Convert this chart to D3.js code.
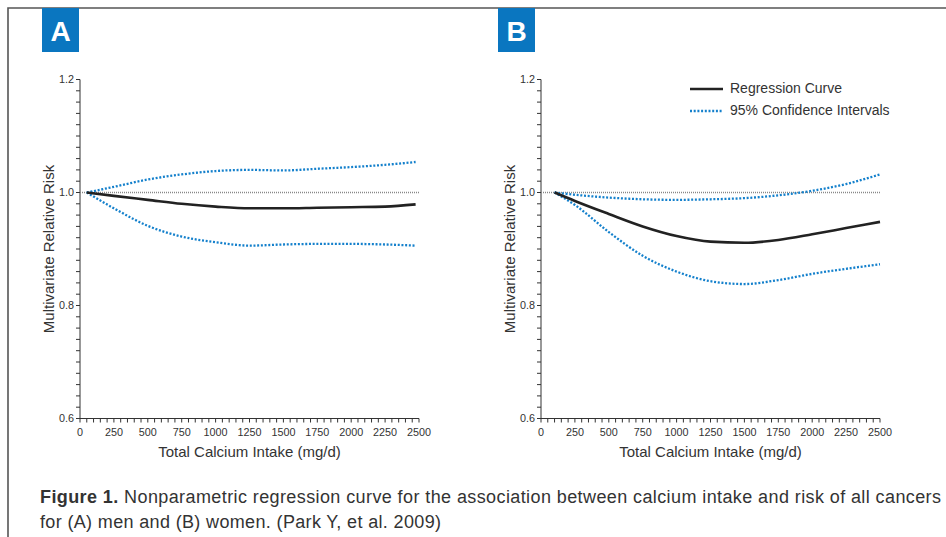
<!DOCTYPE html>
<html>
<head>
<meta charset="utf-8">
<script src="https://cdn.jsdelivr.net/npm/d3@7"></script>
<style>
  html, body { margin: 0; padding: 0; background: #fff; }
  svg { display: block; font-family: "Liberation Sans", Arial, sans-serif; }
  .tick-label { font-size: 10.8px; fill: #333; }
  .axis-title { font-size: 15px; fill: #333; }
  .legend-text { font-size: 14px; fill: #333; }
  .caption { font-size: 18px; fill: #333; }
</style>
</head>
<body>
<svg id="chart" width="946" height="537"></svg>
<script>
// Panel A (men): calcium intake (mg/d) vs multivariate relative risk
const doseA  = [50, 250, 500, 750, 1000, 1250, 1500, 1750, 2000, 2250, 2475];
const curveA = [1.000, 0.994, 0.987, 0.980, 0.975, 0.972, 0.972, 0.973, 0.974, 0.975, 0.979];
const upperA = [1.000, 1.010, 1.023, 1.032, 1.038, 1.040, 1.039, 1.042, 1.045, 1.049, 1.054];
const lowerA = [1.000, 0.972, 0.941, 0.922, 0.912, 0.906, 0.908, 0.909, 0.909, 0.908, 0.906];

// Panel B (women)
const doseB  = [100, 250, 500, 750, 1000, 1250, 1500, 1750, 2000, 2250, 2500];
const curveB = [1.000, 0.985, 0.962, 0.940, 0.923, 0.913, 0.911, 0.916, 0.926, 0.937, 0.948];
const upperB = [1.000, 0.996, 0.991, 0.988, 0.987, 0.988, 0.990, 0.995, 1.003, 1.015, 1.032];
const lowerB = [1.000, 0.978, 0.930, 0.888, 0.860, 0.843, 0.838, 0.845, 0.856, 0.865, 0.873];

// axis ticks
const xTickLabels = [0, 250, 500, 750, 1000, 1250, 1500, 1750, 2000, 2250, 2500];
const yTickLabels = [0.6, 0.8, 1.0, 1.2];
const legendLabels = ["Regression Curve", "95% Confidence Intervals"];
const captionBold = "Figure 1.";
const captionLine1 = " Nonparametric regression curve for the association between calcium intake and risk of all cancers";
const captionLine2 = "for (A) men and (B) women. (Park Y, et al. 2009)";

const blue = "#1480cc";
const svg = d3.select("#chart");

// frame around the figure
svg.append("path")
    .attr("d", "M8,537 L8,8 L946,8")
    .attr("fill", "none")
    .attr("stroke", "#555")
    .attr("stroke-width", 1.6);

function drawPanel(left, badgeX, letter, dose, curve, upper, lower, showLegend) {
    const x = d3.scaleLinear().domain([0, 2500]).range([left, left + 339]);
    const y = d3.scaleLinear().domain([0.6, 1.2]).range([418.5, 79.5]);
    const g = svg.append("g");

    // letter badge
    g.append("rect")
        .attr("x", badgeX).attr("y", 8)
        .attr("width", 37).attr("height", 44)
        .attr("fill", "#0a76c0");
    g.append("text")
        .attr("x", badgeX + 18.5).attr("y", 41)
        .attr("text-anchor", "middle")
        .attr("fill", "#fff")
        .style("font-size", "28px")
        .style("font-weight", "bold")
        .text(letter);

    // y axis
    const yAxis = g.append("g").attr("transform", `translate(${left},0)`);
    yAxis.append("line")
        .attr("y1", y(1.2)).attr("y2", y(0.6))
        .attr("stroke", "#333");
    yAxis.selectAll(".ytick")
        .data(d3.range(0, 31).map(i => 0.6 + i * 0.02))
        .join("line")
        .attr("x1", -4).attr("x2", 0)
        .attr("y1", d => y(d)).attr("y2", d => y(d))
        .attr("stroke", "#333");
    yAxis.selectAll(".ylab")
        .data(yTickLabels)
        .join("text")
        .attr("class", "tick-label")
        .attr("x", -6)
        .attr("y", d => y(d))
        .attr("dy", "0.35em")
        .attr("text-anchor", "end")
        .text(d => d3.format(".1f")(d));

    // x axis
    const xAxis = g.append("g").attr("transform", `translate(0,${y(0.6)})`);
    xAxis.append("line")
        .attr("x1", x(0)).attr("x2", x(2500))
        .attr("stroke", "#333");
    xAxis.selectAll(".xtick")
        .data(d3.range(0, 2501, 50))
        .join("line")
        .attr("x1", d => x(d)).attr("x2", d => x(d))
        .attr("y1", 0).attr("y2", 4)
        .attr("stroke", "#333");
    xAxis.selectAll(".xlab")
        .data(xTickLabels)
        .join("text")
        .attr("class", "tick-label")
        .attr("x", d => x(d))
        .attr("y", 17)
        .attr("text-anchor", "middle")
        .text(d => d);

    // axis titles
    g.append("text")
        .attr("class", "axis-title")
        .attr("x", x(1250)).attr("y", 457)
        .attr("text-anchor", "middle")
        .text("Total Calcium Intake (mg/d)");
    g.append("text")
        .attr("class", "axis-title")
        .attr("transform", `translate(${left - 26},${y(0.9)}) rotate(-90)`)
        .attr("text-anchor", "middle")
        .text("Multivariate Relative Risk");

    // reference line at RR = 1
    g.append("line")
        .attr("x1", x(0)).attr("x2", x(2500))
        .attr("y1", y(1)).attr("y2", y(1))
        .attr("stroke", "#888")
        .attr("stroke-width", 1.6)
        .attr("stroke-dasharray", "1 1");

    const line = d3.line()
        .x(d => x(d[0]))
        .y(d => y(d[1]))
        .curve(d3.curveMonotoneX);

    [upper, lower].forEach(vals => {
        g.append("path")
            .datum(d3.zip(dose, vals))
            .attr("d", line)
            .attr("fill", "none")
            .attr("stroke", blue)
            .attr("stroke-width", 2.3)
            .attr("stroke-dasharray", "2 1.7");
    });
    g.append("path")
        .datum(d3.zip(dose, curve))
        .attr("d", line)
        .attr("fill", "none")
        .attr("stroke", "#222")
        .attr("stroke-width", 2.6);

    if (showLegend) {
        const lg = g.append("g").attr("transform", "translate(690,89)");
        legendLabels.forEach((label, i) => {
            lg.append("line")
                .attr("x1", 0).attr("x2", 33)
                .attr("y1", i * 22).attr("y2", i * 22)
                .attr("stroke", i === 0 ? "#222" : blue)
                .attr("stroke-width", i === 0 ? 2.5 : 2.3)
                .attr("stroke-dasharray", i === 0 ? null : "2 1.7");
            lg.append("text")
                .attr("class", "legend-text")
                .attr("x", 40).attr("y", i * 22)
                .attr("dy", "0.3em")
                .text(label);
        });
    }
}

drawPanel(80, 42, "A", doseA, curveA, upperA, lowerA, false);
drawPanel(541, 498, "B", doseB, curveB, upperB, lowerB, true);

// caption
const cap = svg.append("text").attr("class", "caption")
    .attr("x", 40).attr("y", 503)
    .attr("textLength", 901).attr("lengthAdjust", "spacing");
cap.append("tspan").style("font-weight", "bold").text(captionBold);
cap.append("tspan").text(captionLine1);
svg.append("text").attr("class", "caption")
    .attr("x", 40).attr("y", 528)
    .attr("textLength", 401).attr("lengthAdjust", "spacing")
    .text(captionLine2);
</script>
</body>
</html>
